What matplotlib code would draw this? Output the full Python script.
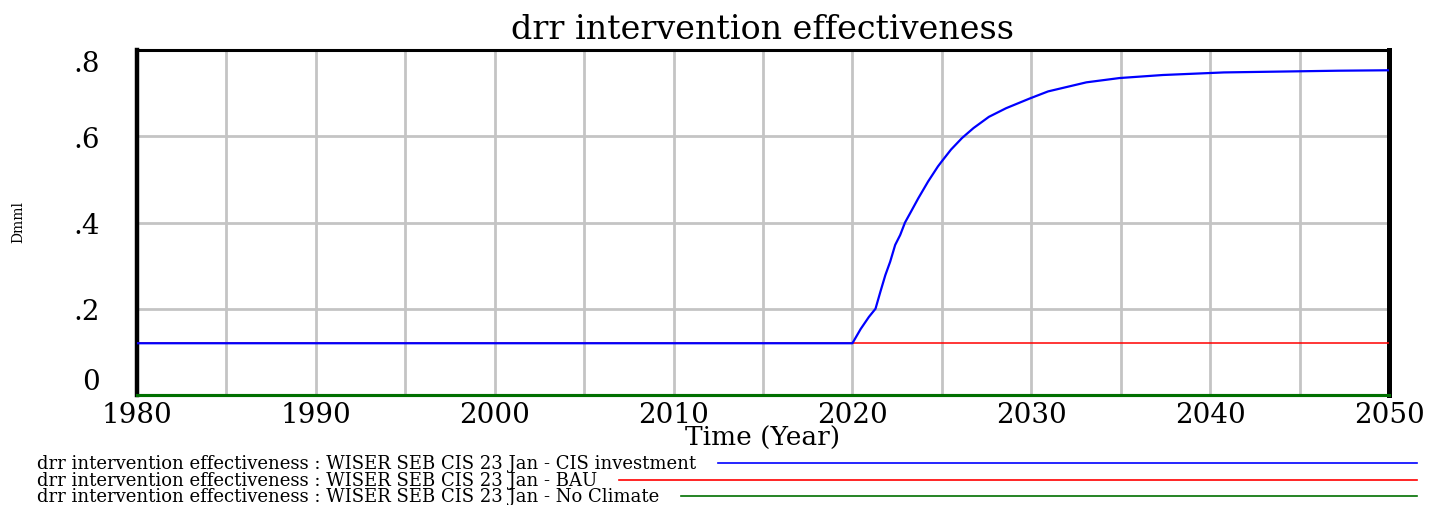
import matplotlib
matplotlib.use("Agg")
import matplotlib.pyplot as plt
from matplotlib.lines import Line2D

# series
cis_years = [1980, 2020, 2020.46, 2020.92, 2021.29, 2021.56, 2021.84, 2022.11,
             2022.39, 2022.67, 2022.94, 2023.22, 2023.68, 2024.23, 2024.78,
             2025.0, 2025.51, 2026.13, 2026.77, 2027.63, 2028.59, 2029.94,
             2030.94, 2033.08, 2034.94, 2037.35, 2040.77, 2047.18, 2050]
cis_values = [0.12, 0.12, 0.153, 0.181, 0.2, 0.239, 0.278, 0.309,
              0.348, 0.371, 0.4, 0.421, 0.456, 0.495, 0.53,
              0.542, 0.569, 0.596, 0.619, 0.645, 0.665, 0.688,
              0.704, 0.725, 0.735, 0.742, 0.748, 0.752, 0.753]
bau_years = [1980, 2050]
bau_values = [0.12, 0.12]
noclim_years = [1980, 2050]
noclim_values = [0.0, 0.0]

x_ticks = [1980, 1990, 2000, 2010, 2020, 2030, 2040, 2050]
y_ticks = [0, 0.2, 0.4, 0.6, 0.8]
y_labels = ["0", ".2", ".4", ".6", ".8"]

legend_labels = [
    "drr intervention effectiveness : WISER SEB CIS 23 Jan - CIS investment",
    "drr intervention effectiveness : WISER SEB CIS 23 Jan - BAU",
    "drr intervention effectiveness : WISER SEB CIS 23 Jan - No Climate",
]
colors = ["#0000ff", "#ff0000", "#007000"]

serif = "DejaVu Serif"
W, H = 1433, 506
fig = plt.figure(figsize=(W / 100, H / 100), dpi=100)
ax = fig.add_axes([137 / W, 1 - 396 / H, (1389 - 137) / W, (396 - 51) / H])

ax.plot(noclim_years, noclim_values, color=colors[2], lw=2.2, clip_on=False, zorder=5)
ax.plot(bau_years, bau_values, color=colors[1], lw=1.1, zorder=3)
ax.plot(cis_years, cis_values, color=colors[0], lw=1.6, zorder=4)

ax.set_xlim(1980, 2050)
ax.set_ylim(0, 0.8)
ax.set_xticks(range(1980, 2051, 5))
ax.set_xticklabels([str(y) if y in x_ticks else "" for y in range(1980, 2051, 5)],
                   fontsize=20, family=serif)
ax.set_yticks(y_ticks)
ax.set_yticklabels(y_labels, fontsize=20, family=serif)
for lab in ax.get_yticklabels():
    if lab.get_text() == ".8":
        lab.set_va("top")
    elif lab.get_text() == "0":
        lab.set_va("bottom")
ax.tick_params(axis="both", length=0)
ax.tick_params(axis="y", pad=27)
ax.tick_params(axis="x", pad=4)
ax.grid(True, color="#c4c4c4", lw=2)
ax.set_axisbelow(True)

for side, w in [("top", 2.2), ("left", 3.2), ("right", 3.6), ("bottom", 2.2)]:
    ax.spines[side].set_linewidth(w)
    ax.spines[side].set_color("black")

ax.set_title("drr intervention effectiveness", fontsize=24, family=serif, pad=9)
ax.set_xlabel("Time (Year)", fontsize=19, family=serif, labelpad=-2)
fig.text(18 / W, 1 - 222 / H, "Dmml", rotation=90, fontsize=10, family=serif,
         ha="center", va="center")

# legend rows: text, then a sample line out to the right edge
fig.canvas.draw()
renderer = fig.canvas.get_renderer()
row_y = [464, 481, 497]
for label, c, yy in zip(legend_labels, colors, row_y):
    t = fig.text(37 / W, 1 - yy / H, label, fontsize=13, family=serif,
                 ha="left", va="center")
    bb = t.get_window_extent(renderer)
    x0 = (bb.x1 + 22) / W
    fig.add_artist(Line2D([x0, 1417 / W], [1 - yy / H, 1 - yy / H],
                          transform=fig.transFigure, color=c, lw=1.2))

fig.savefig("out.png", dpi=100)
